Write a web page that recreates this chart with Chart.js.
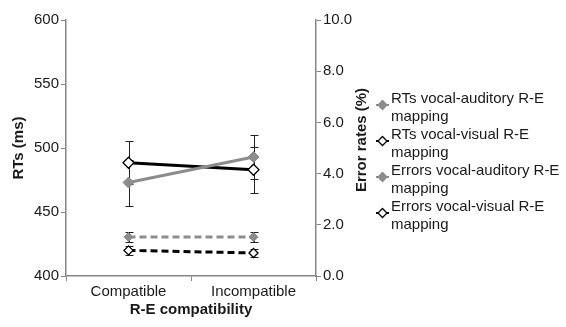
<!DOCTYPE html>
<html>
<head>
<meta charset="utf-8">
<script src="https://cdn.jsdelivr.net/npm/chart.js@4/dist/chart.umd.min.js"></script>
<style>
  html, body { margin: 0; padding: 0; background: #fff; }
  #wrap { width: 566px; height: 327px; }
</style>
</head>
<body>
<div id="wrap"><canvas id="rtChart" width="566" height="327"></canvas></div>
<script>
/* ================= DATA ================= */

const categories = ["Compatible", "Incompatible"];

const rtAuditory = [473, 493];
const rtAuditoryErr = [18, 17];
const rtVisual = [488.5, 483];
const rtVisualErr = [17, 18];

const errAuditory = [1.52, 1.52];
const errAuditoryErr = [0.18, 0.18];
const errVisual = [1.0, 0.9];
const errVisualErr = [0.17, 0.17];

const seriesLabels = [
  ["RTs vocal-auditory R-E", "mapping"],
  ["RTs vocal-visual R-E", "mapping"],
  ["Errors vocal-auditory R-E", "mapping"],
  ["Errors vocal-visual R-E", "mapping"]
];

const rtTicks = [400, 450, 500, 550, 600];
const errTicks = [0, 2, 4, 6, 8, 10];

/* ================= STYLE ================= */

const FONT = "'Liberation Sans', Arial, sans-serif";
const GRAY = "#8c8c8c";
const AXIS = "#868686";
const TEXT = "#1a1a1a";

/* ================= PLUGINS ================= */

// error bars, drawn under the markers
const errorBars = {
  id: "errorBars",
  beforeDatasetsDraw(chart) {
    const ctx = chart.ctx;
    ctx.save();
    ctx.strokeStyle = "#222";
    ctx.lineWidth = 1;
    chart.data.datasets.forEach((ds, i) => {
      const meta = chart.getDatasetMeta(i);
      const yScale = chart.scales[ds.yAxisID];
      meta.data.forEach((pt, j) => {
        const v = ds.data[j], e = ds.errors[j];
        const top = Math.round(yScale.getPixelForValue(v + e)) + 0.5;
        const bot = Math.round(yScale.getPixelForValue(v - e)) + 0.5;
        const x = Math.round(pt.x) + 0.5;
        ctx.beginPath();
        ctx.moveTo(x, top); ctx.lineTo(x, bot);
        ctx.moveTo(x - 4, top); ctx.lineTo(x + 4, top);
        ctx.moveTo(x - 4, bot); ctx.lineTo(x + 4, bot);
        ctx.stroke();
      });
    });
    ctx.restore();
  }
};

// right axis title (reads bottom to top) and the two-line legend
const sideLegend = {
  id: "sideLegend",
  afterDraw(chart) {
    const ctx = chart.ctx;
    ctx.save();

    ctx.translate(362, 140);
    ctx.rotate(-Math.PI / 2);
    ctx.font = "bold 15px " + FONT;
    ctx.fillStyle = TEXT;
    ctx.textAlign = "center";
    ctx.textBaseline = "middle";
    ctx.fillText("Error rates (%)", 0, 0);
    ctx.setTransform(1, 0, 0, 1, 0, 0);

    chart.data.datasets.forEach((ds, i) => {
      const y0 = 99 + i * 36;
      const my = y0 + 6;
      ctx.strokeStyle = ds.borderColor;
      ctx.lineWidth = 2;
      ctx.beginPath();
      ctx.moveTo(376, my); ctx.lineTo(389, my);
      ctx.stroke();

      ctx.beginPath();
      ctx.moveTo(382.5, my - 4.5);
      ctx.lineTo(387, my);
      ctx.lineTo(382.5, my + 4.5);
      ctx.lineTo(378, my);
      ctx.closePath();
      ctx.fillStyle = ds.pointBackgroundColor;
      ctx.fill();
      ctx.lineWidth = 1.3;
      ctx.strokeStyle = ds.pointBorderColor;
      ctx.stroke();

      ctx.font = "15px " + FONT;
      ctx.fillStyle = TEXT;
      ctx.textAlign = "left";
      ctx.textBaseline = "middle";
      seriesLabels[i].forEach((line, k) => {
        ctx.fillText(line, 391, y0 + k * 17.5);
      });
    });
    ctx.restore();
  }
};

/* ================= CHART ================= */

const ctx = document.getElementById("rtChart").getContext("2d");

new Chart(ctx, {
  type: "line",
  data: {
    labels: categories,
    datasets: [
      {
        label: seriesLabels[0].join(" "),
        data: rtAuditory,
        errors: rtAuditoryErr,
        yAxisID: "y",
        borderColor: GRAY,
        borderWidth: 3,
        pointStyle: "rectRot",
        pointRadius: 5.5,
        pointBackgroundColor: GRAY,
        pointBorderColor: GRAY,
        pointBorderWidth: 1
      },
      {
        label: seriesLabels[1].join(" "),
        data: rtVisual,
        errors: rtVisualErr,
        yAxisID: "y",
        borderColor: "#000",
        borderWidth: 3,
        pointStyle: "rectRot",
        pointRadius: 5.5,
        pointBackgroundColor: "#fff",
        pointBorderColor: "#000",
        pointBorderWidth: 1.3
      },
      {
        label: seriesLabels[2].join(" "),
        data: errAuditory,
        errors: errAuditoryErr,
        yAxisID: "y1",
        borderColor: GRAY,
        borderWidth: 3,
        borderDash: [7, 4],
        pointStyle: "rectRot",
        pointRadius: 4.5,
        pointBackgroundColor: GRAY,
        pointBorderColor: GRAY,
        pointBorderWidth: 1
      },
      {
        label: seriesLabels[3].join(" "),
        data: errVisual,
        errors: errVisualErr,
        yAxisID: "y1",
        borderColor: "#000",
        borderWidth: 3,
        borderDash: [7, 4],
        pointStyle: "rectRot",
        pointRadius: 4.5,
        pointBackgroundColor: "#fff",
        pointBorderColor: "#000",
        pointBorderWidth: 1.3
      }
    ]
  },
  options: {
    responsive: false,
    animation: false,
    layout: { padding: { top: 20, right: 210, bottom: 0, left: 0 } },
    plugins: {
      legend: { display: false },
      tooltip: { enabled: false }
    },
    scales: {
      x: {
        offset: true,
        afterFit: (s) => { s.height = 51; },
        border: { color: AXIS, width: 1.5 },
        grid: { offset: true, drawOnChartArea: false, tickLength: 5, color: AXIS },
        ticks: { color: TEXT, font: { family: FONT, size: 15 }, padding: 2 },
        title: {
          display: true,
          text: "R-E compatibility",
          color: TEXT,
          font: { family: FONT, size: 15, weight: "bold" },
          padding: { top: 0, bottom: 8 }
        }
      },
      y: {
        position: "left",
        min: 400,
        max: 600,
        afterFit: (s) => { s.width = 66; },
        afterBuildTicks: (s) => { s.ticks = rtTicks.map(v => ({ value: v })); },
        border: { color: AXIS, width: 1.5 },
        grid: { drawOnChartArea: false, tickLength: 5, color: AXIS },
        ticks: { color: TEXT, font: { family: FONT, size: 15 }, padding: 2 },
        title: {
          display: true,
          text: "RTs (ms)",
          color: TEXT,
          font: { family: FONT, size: 15, weight: "bold" },
          padding: { top: 10, bottom: 0 }
        }
      },
      y1: {
        position: "right",
        min: 0,
        max: 10,
        afterFit: (s) => { s.width = 40; },
        afterBuildTicks: (s) => { s.ticks = errTicks.map(v => ({ value: v })); },
        border: { color: AXIS, width: 1.5 },
        grid: { drawOnChartArea: false, tickLength: 5, color: AXIS },
        ticks: {
          color: TEXT,
          font: { family: FONT, size: 15 },
          padding: 2,
          callback: (v) => Number(v).toFixed(1)
        }
      }
    }
  },
  plugins: [errorBars, sideLegend]
});
</script>
</body>
</html>
